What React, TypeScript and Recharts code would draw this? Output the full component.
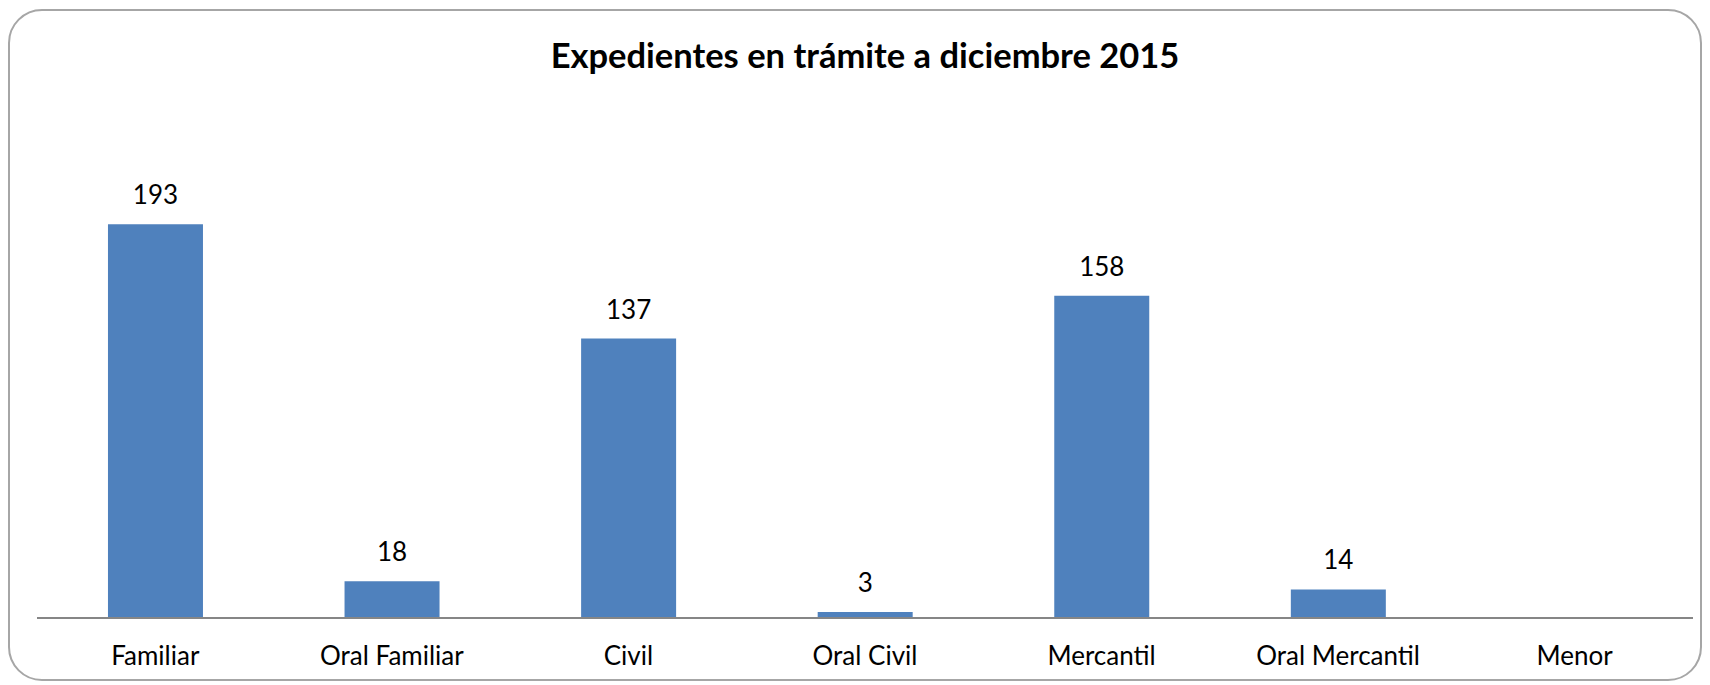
import React from "react";
import { BarChart, Bar, XAxis, YAxis, LabelList } from "recharts";

const categories = [
  "Familiar",
  "Oral Familiar",
  "Civil",
  "Oral Civil",
  "Mercantil",
  "Oral Mercantil",
  "Menor",
];
const expedientes: (number | null)[] = [193, 18, 137, 3, 158, 14, null];

const data = categories.map((name, i) => ({ name, value: expedientes[i] }));

const FONT = "Lato, 'Open Sans', sans-serif";

export default function App() {
  return (
    <div
      style={{
        position: "absolute",
        left: 0,
        top: 0,
        width: 1710,
        height: 685,
        background: "#fff",
        fontFamily: FONT,
      }}
    >
      <div
        style={{
          position: "absolute",
          left: 8,
          top: 9,
          width: 1694,
          height: 672,
          border: "2px solid #a6a6a6",
          borderRadius: 34,
          boxSizing: "border-box",
        }}
      />
      <div
        style={{
          position: "absolute",
          left: 0,
          width: 1730,
          top: 35,
          textAlign: "center",
          fontSize: 34.5,
          fontWeight: 700,
          color: "#000",
          lineHeight: "40px",
        }}
      >
        Expedientes en trámite a diciembre 2015
      </div>
      <div style={{ position: "absolute", left: 0, top: 0 }}>
        <BarChart
          width={1710}
          height={685}
          data={data}
          margin={{ top: 108, right: 17, bottom: 7, left: 37 }}
          barCategoryGap="30%"
        >
          <YAxis hide domain={[0, 250]} />
          <XAxis
            dataKey="name"
            height={60}
            tickLine={false}
            tickSize={0}
            tickMargin={29}
            axisLine={{ stroke: "#868686", strokeWidth: 2 }}
            tick={{ fill: "#000", fontSize: 26, fontFamily: FONT }}
            interval={0}
          />
          <Bar dataKey="value" fill="#4f81bd" isAnimationActive={false}>
            <LabelList
              dataKey="value"
              position="top"
              offset={20}
              fill="#000"
              fontSize={26}
              fontFamily={FONT}
            />
          </Bar>
        </BarChart>
      </div>
    </div>
  );
}
